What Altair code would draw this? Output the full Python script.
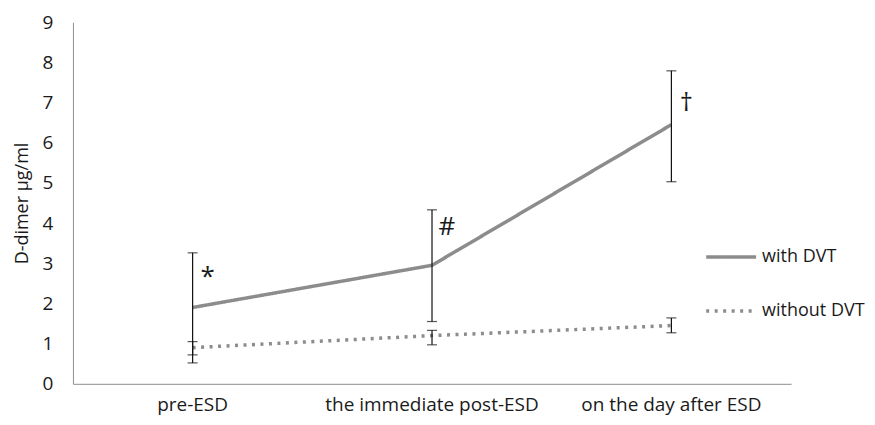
import altair as alt
import pandas as pd

categories = ["pre-ESD", "the immediate post-ESD", "on the day after ESD"]
series_names = ["with DVT", "without DVT"]
with_mean = [1.9, 2.95, 6.45]
with_upper = [3.26, 4.33, 7.79]
with_lower = [0.52, 1.55, 5.03]
without_mean = [0.9, 1.2, 1.45]
without_upper = [1.05, 1.33, 1.64]
without_lower = [0.72, 0.97, 1.27]
marks = ["*", "#", "\u2020"]
mark_y = [2.65, 3.9, 7.0]

rows = []
for i, c in enumerate(categories):
    rows.append({"cat": c, "series": series_names[0], "mean": with_mean[i], "lo": with_lower[i], "hi": with_upper[i]})
    rows.append({"cat": c, "series": series_names[1], "mean": without_mean[i], "lo": without_lower[i], "hi": without_upper[i]})
df = pd.DataFrame(rows)
ann = pd.DataFrame({"cat": categories, "txt": marks, "y": mark_y})

FONT = "Open Sans"
FS = 19
x_enc = alt.X("cat:N", sort=categories, title=None,
              scale=alt.Scale(paddingInner=0, paddingOuter=0),
              axis=alt.Axis(labelAngle=0, ticks=False, grid=False, domainColor="#8f8f8f",
                            labelFontSize=FS, labelPadding=12, labelColor="#1a1a1a", labelFont=FONT,
                            labelLimit=0))
y_scale = alt.Scale(domain=[0, 9], nice=False)

base = alt.Chart(df)
lines = base.mark_line(strokeWidth=3.5).encode(
    x=x_enc,
    y=alt.Y("mean:Q", scale=y_scale, title="D-dimer \u03bcg/ml",
            axis=alt.Axis(values=list(range(10)), ticks=False, grid=False, domainColor="#8f8f8f",
                          labelFontSize=FS, labelPadding=20, labelColor="#1a1a1a", labelFont=FONT,
                          titleFontSize=FS - 1, titleFontWeight="normal", titleColor="#1a1a1a",
                          titleFont=FONT, titlePadding=11)),
    color=alt.Color("series:N", scale=alt.Scale(domain=series_names, range=["#8c8c8c", "#8c8c8c"]),
                    legend=alt.Legend(title=None, orient="none", legendX=632, legendY=208,
                                      labelFontSize=18, labelFont=FONT, labelColor="#1a1a1a",
                                      symbolSize=2500, symbolStrokeWidth=3.5, rowPadding=18,
                                      labelOffset=4, symbolType="stroke", labelLimit=0)),
    strokeDash=alt.StrokeDash("series:N", scale=alt.Scale(domain=series_names, range=[[1, 0], [3, 5.5]]),
                              legend=None),
)
rules = base.mark_rule(color="#111111", strokeWidth=1.2).encode(
    x=alt.X("cat:N", sort=categories), y="lo:Q", y2="hi:Q")
caps_hi = base.mark_tick(color="#111111", thickness=1.2, size=10).encode(
    x=alt.X("cat:N", sort=categories), y="hi:Q")
caps_lo = base.mark_tick(color="#111111", thickness=1.2, size=10).encode(
    x=alt.X("cat:N", sort=categories), y="lo:Q")
texts = alt.Chart(ann).mark_text(fontSize=26, dx=15, font=FONT, color="#1a1a1a").encode(
    x=alt.X("cat:N", sort=categories), y=alt.Y("y:Q", scale=y_scale), text="txt:N")

chart = alt.layer(lines, rules, caps_hi, caps_lo, texts).properties(
    width=719, height=362,
    background="white",
    autosize=alt.AutoSizeParams(type="none"),
    padding={"left": 65, "top": 14, "right": 76, "bottom": 35},
).configure_view(stroke=None)

chart.save("out.html", embed_options={"renderer": "svg", "actions": False})
